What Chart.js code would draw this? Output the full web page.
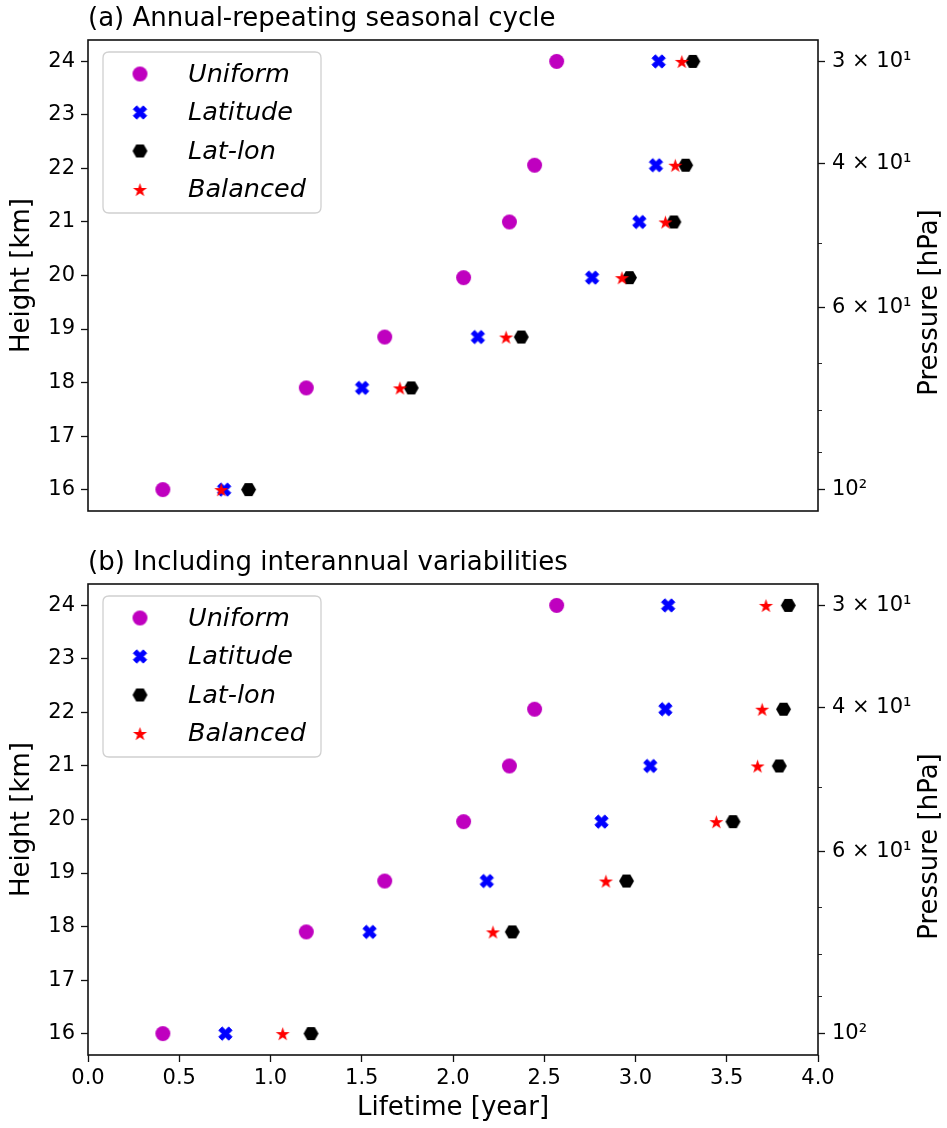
<!DOCTYPE html>
<html><head><meta charset="utf-8">
<script src="https://cdn.jsdelivr.net/npm/chart.js@4.4.0/dist/chart.umd.min.js"></script>
<style>
html,body{margin:0;padding:0;background:#fff;}
#wa{position:absolute;left:0;top:0;width:947px;height:545px;}
#wb{position:absolute;left:0;top:545px;width:947px;height:583px;}
</style></head><body>
<div id="wa"><canvas id="ca" width="947" height="545"></canvas></div>
<div id="wb"><canvas id="cb" width="947" height="583"></canvas></div>
<script>
// ---------- data ----------
const heights = [16, 17.9, 18.85, 19.96, 21.0, 22.06, 24.0];
const seriesNames = ['Uniform', 'Latitude', 'Lat-lon', 'Balanced'];
const a_uniform  = [0.410, 1.196, 1.626, 2.058, 2.309, 2.447, 2.568];
const a_latitude = [0.746, 1.502, 2.136, 2.762, 3.021, 3.112, 3.127];
const a_latlon   = [0.880, 1.771, 2.374, 2.967, 3.210, 3.275, 3.314];
const a_balanced = [0.730, 1.709, 2.291, 2.926, 3.164, 3.218, 3.254];
const b_uniform  = [0.410, 1.196, 1.626, 2.058, 2.309, 2.447, 2.568];
const b_latitude = [0.753, 1.543, 2.185, 2.814, 3.081, 3.164, 3.179];
const b_latlon   = [1.222, 2.325, 2.951, 3.534, 3.788, 3.811, 3.837];
const b_balanced = [1.067, 2.219, 2.838, 3.443, 3.669, 3.694, 3.715];
const heightTicks = [16, 17, 18, 19, 20, 21, 22, 23, 24];
const lifetimeTicks = [0, 0.5, 1, 1.5, 2, 2.5, 3, 3.5, 4];
const pressureTicks = [30, 40, 50, 60, 70, 80, 90, 100];
const pressureLabels = {30: '3 × 10¹', 40: '4 × 10¹', 60: '6 × 10¹', 100: '10²'};
const titleA = '(a) Annual-repeating seasonal cycle';
const titleB = '(b) Including interannual variabilities';

// ---------- axis ranges ----------
const H_MIN = 15.6, H_MAX = 24.4;
// pressure axis aligned so that 30 hPa <-> 24 km and 100 hPa <-> 16 km
const pAt = h => 100 * Math.pow(30 / 100, (h - 16) / 8);
const P_MIN = pAt(H_MAX), P_MAX = pAt(H_MIN);

// ---------- markers ----------
function mk(w, h, draw) {
  const c = document.createElement('canvas');
  c.width = w; c.height = h;
  const g = c.getContext('2d');
  draw(g, w / 2, h / 2);
  return c;
}
const mCircle = mk(17, 17, (g, cx, cy) => {
  g.fillStyle = '#bf00bf';
  g.beginPath(); g.arc(cx, cy, 7.5, 0, Math.PI * 2); g.fill();
});
const mX = mk(17, 17, (g, cx, cy) => {
  const L = 7.0, w = 2.4;
  const pts = [[-w, L], [w, L], [w, w], [L, w], [L, -w], [w, -w], [w, -L], [-w, -L], [-w, -w], [-L, -w], [-L, w], [-w, w]];
  const c = Math.cos(Math.PI / 4), s = Math.sin(Math.PI / 4);
  g.fillStyle = '#0000ff'; g.strokeStyle = '#0000ff'; g.lineWidth = 1; g.lineJoin = 'round';
  g.beginPath();
  pts.forEach((p, i) => {
    const x = cx + p[0] * c - p[1] * s, y = cy + p[0] * s + p[1] * c;
    i ? g.lineTo(x, y) : g.moveTo(x, y);
  });
  g.closePath(); g.fill(); g.stroke();
});
const mHex = mk(17, 15, (g, cx, cy) => {
  const r = 7.5;
  g.fillStyle = '#000000';
  g.beginPath();
  for (let k = 0; k < 6; k++) {
    const a = k * Math.PI / 3;
    const x = cx + r * Math.cos(a), y = cy + r * Math.sin(a);
    k ? g.lineTo(x, y) : g.moveTo(x, y);
  }
  g.closePath(); g.fill();
});
const mStar = mk(17, 17, (g, cx, cy) => {
  const R = 7.4, r = R * 0.382;
  g.fillStyle = '#ff0000';
  g.beginPath();
  for (let k = 0; k < 10; k++) {
    const rad = k % 2 ? r : R;
    const a = -Math.PI / 2 + k * Math.PI / 5;
    const x = cx + rad * Math.cos(a), y = cy + 0.8 + rad * Math.sin(a);
    k ? g.lineTo(x, y) : g.moveTo(x, y);
  }
  g.closePath(); g.fill();
});
const markers = [mCircle, mX, mHex, mStar];

// ---------- decoration plugin ----------
const FONT = "'DejaVu Sans'";
const deco = {
  id: 'deco',
  afterDraw(chart, args, opts) {
    const ctx = chart.ctx, ca = chart.chartArea;
    ctx.save();
    // minor ticks of the pressure axis (shorter, thinner)
    const ps = chart.scales.y2;
    ctx.strokeStyle = '#111'; ctx.lineWidth = 0.9;
    pressureTicks.forEach(v => {
      if (pressureLabels[v]) return;
      const y = Math.round(ps.getPixelForValue(v)) + 0.5;
      ctx.beginPath(); ctx.moveTo(ca.right, y); ctx.lineTo(ca.right + 4, y); ctx.stroke();
    });
    // frame
    ctx.strokeStyle = '#111'; ctx.lineWidth = 1.6;
    ctx.strokeRect(ca.left, ca.top, ca.right - ca.left, ca.bottom - ca.top);
    // panel title
    ctx.fillStyle = '#000';
    ctx.font = '26px ' + FONT;
    ctx.textAlign = 'left'; ctx.textBaseline = 'middle';
    ctx.fillText(opts.title, ca.left, ca.top - 21);
    // right axis title
    ctx.save();
    ctx.translate(930, (ca.top + ca.bottom) / 2 + 27);
    ctx.rotate(-Math.PI / 2);
    ctx.textAlign = 'center'; ctx.textBaseline = 'middle';
    ctx.fillText('Pressure [hPa]', 0, 0);
    ctx.restore();
    // legend
    const bx = ca.left + 15, by = ca.top + 12, bw = 218, bh = 161, rr = 6;
    ctx.beginPath();
    ctx.moveTo(bx + rr, by); ctx.lineTo(bx + bw - rr, by); ctx.quadraticCurveTo(bx + bw, by, bx + bw, by + rr);
    ctx.lineTo(bx + bw, by + bh - rr); ctx.quadraticCurveTo(bx + bw, by + bh, bx + bw - rr, by + bh);
    ctx.lineTo(bx + rr, by + bh); ctx.quadraticCurveTo(bx, by + bh, bx, by + bh - rr);
    ctx.lineTo(bx, by + rr); ctx.quadraticCurveTo(bx, by, bx + rr, by);
    ctx.closePath();
    ctx.fillStyle = 'rgba(255,255,255,0.8)'; ctx.fill();
    ctx.strokeStyle = '#d0d0d0'; ctx.lineWidth = 1.3; ctx.stroke();
    ctx.font = 'italic 25.5px ' + FONT;
    ctx.fillStyle = '#000'; ctx.textAlign = 'left'; ctx.textBaseline = 'middle';
    chart.data.datasets.forEach((ds, i) => {
      const y = ca.top + 34 + i * 38.5;
      const img = ds.pointStyle;
      ctx.drawImage(img, ca.left + 52 - img.width / 2, y - img.height / 2);
      ctx.fillText(ds.label, ca.left + 100, y + 1);
    });
    ctx.restore();
  }
};

function makeChart(id, title, series, showX, topPad, xHeight) {
  const datasets = series.map((vals, i) => ({
    label: seriesNames[i],
    data: heights.map((h, k) => ({x: vals[k], y: h})),
    pointStyle: markers[i],
    pointRadius: 7, pointHoverRadius: 7,
    showLine: false,
    order: 4 - i,
    yAxisID: 'y', xAxisID: 'x'
  }));
  const tickFont = {family: FONT, size: 21};
  const gridTicks = {display: true, drawOnChartArea: false, drawTicks: true, tickLength: 7, tickColor: '#111', tickWidth: 1.3};
  return new Chart(document.getElementById(id), {
    type: 'scatter',
    data: {datasets},
    options: {
      responsive: false, maintainAspectRatio: false, animation: false,
      devicePixelRatio: 1,
      layout: {padding: {top: topPad, left: 0, right: 0, bottom: 0}},
      plugins: {legend: {display: false}, tooltip: {enabled: false}, deco: {title}},
      scales: {
        x: {
          type: 'linear', position: 'bottom', min: 0, max: 4,
          afterBuildTicks: s => { s.ticks = lifetimeTicks.map(v => ({value: v})); },
          ticks: {display: showX, font: tickFont, color: '#000', padding: 4, autoSkip: false, maxRotation: 0,
                  callback: v => v.toFixed(1)},
          grid: showX ? gridTicks : {display: false},
          border: {display: false},
          title: {display: showX, text: 'Lifetime [year]', color: '#000', font: {family: FONT, size: 26, lineHeight: 1.2}, padding: {top: 0, bottom: 4}},
          afterFit: s => { s.height = xHeight; }
        },
        y: {
          type: 'linear', position: 'left', min: H_MIN, max: H_MAX,
          afterBuildTicks: s => { s.ticks = heightTicks.map(v => ({value: v})); },
          ticks: {font: tickFont, color: '#000', padding: 6, autoSkip: false, callback: v => String(v)},
          grid: gridTicks,
          border: {display: false},
          title: {display: true, text: 'Height [km]', color: '#000', font: {family: FONT, size: 26, lineHeight: 1.2}, padding: {top: 7, bottom: 0}},
          afterFit: s => { s.width = 88; }
        },
        y2: {
          type: 'logarithmic', position: 'right', min: P_MIN, max: P_MAX, reverse: true,
          afterBuildTicks: s => { s.ticks = pressureTicks.map(v => ({value: v, major: !!pressureLabels[v]})); },
          ticks: {font: tickFont, color: '#000', padding: 7, autoSkip: false, callback: v => pressureLabels[v] || ''},
          grid: Object.assign({}, gridTicks, {tickColor: c => (c.tick && pressureLabels[c.tick.value]) ? '#111' : 'rgba(0,0,0,0)'}),
          border: {display: false},
          afterFit: s => { s.width = 129; }
        }
      }
    },
    plugins: [deco]
  });
}

makeChart('ca', titleA, [a_uniform, a_latitude, a_latlon, a_balanced], false, 40, 34);
makeChart('cb', titleB, [b_uniform, b_latitude, b_latlon, b_balanced], true, 39, 73);
</script>
</body></html>
